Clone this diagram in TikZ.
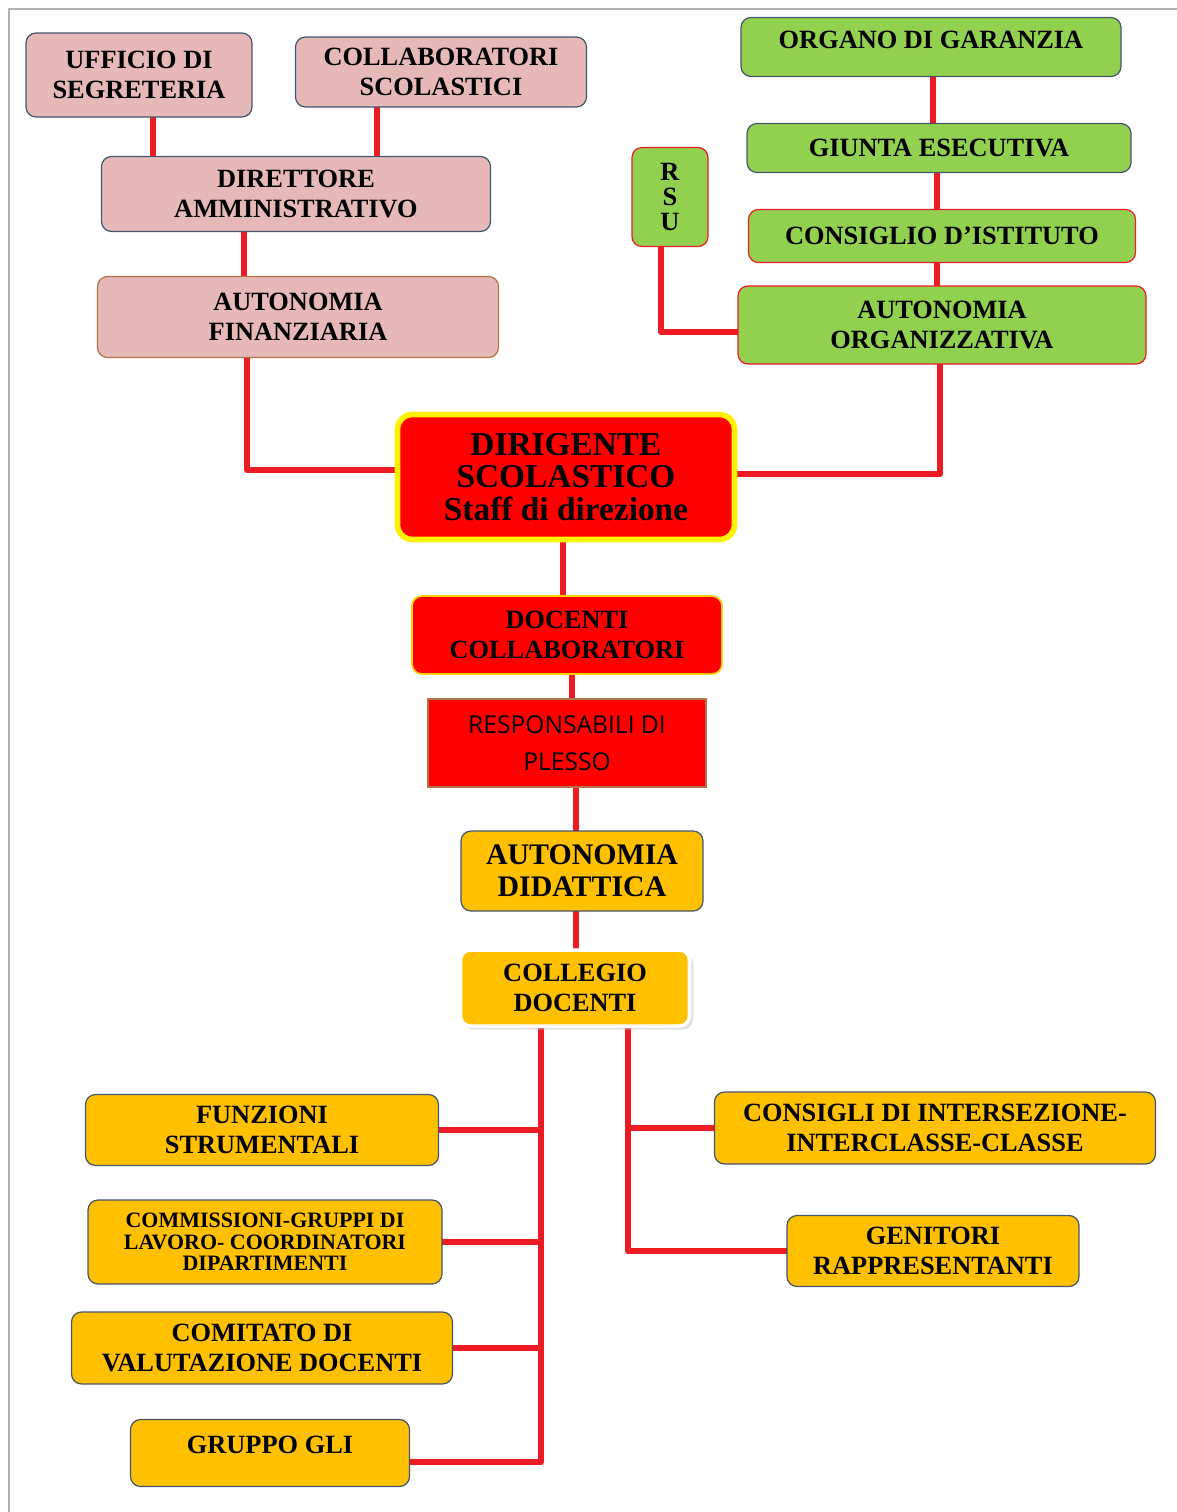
\documentclass[tikz,border=0pt]{standalone}
\usepackage{fontspec}
\setmainfont{Liberation Serif}
\newfontfamily\plessoFont{Open Sans}
\usetikzlibrary{backgrounds,shadows}
\definecolor{pinkFill}{HTML}{E6B9B8}
\definecolor{slateLine}{HTML}{44566E}
\definecolor{brownLine}{HTML}{B5714A}
\definecolor{greenFill}{HTML}{92D050}
\definecolor{linkRed}{HTML}{ED1C24}
\definecolor{boxRed}{HTML}{FF0000}
\definecolor{orangeFill}{HTML}{FFC000}
\tikzstyle{chart} = [x = 0.02cm, y = -0.02cm]
\tikzstyle{orgBox} = [rounded corners = .2cm, align = center, inner sep = 0pt, line width = .7pt, font = \bfseries\fontsize{15}{17}\selectfont]
\tikzstyle{pinkBox} = [orgBox, fill = pinkFill, draw = slateLine]
\tikzstyle{greenBox} = [orgBox, fill = greenFill, draw = slateLine]
\tikzstyle{greenRedBox} = [orgBox, fill = greenFill, draw = linkRed]
\tikzstyle{orangeBox} = [orgBox, fill = orangeFill, draw = slateLine]
\tikzstyle{link} = [color = linkRed, line width = 3.4pt, line cap = round, line join = round]
\tikzstyle{frameLine} = [color = black!30, line width = .6pt]
\newcommand{\chartBox}[7]{\node [#1, minimum width = #5 * 0.02cm, minimum height = #6 * 0.02cm] (#2) at (#3,#4) {#7};}
\begin{document}
\begin{tikzpicture}[chart]
  \useasboundingbox (0,0) rectangle (1177,1512);
  \draw [frameLine] (9,1512) -- (9,9) -- (1177,9);
  % amministrazione
  \chartBox{pinkBox}{ufficio}{139}{75}{226}{84}{UFFICIO DI\\SEGRETERIA}
  \chartBox{pinkBox}{collab}{441}{72}{291}{70}{COLLABORATORI\\SCOLASTICI}
  \chartBox{pinkBox}{dirAmm}{296}{194}{389}{75}{DIRETTORE\\AMMINISTRATIVO}
  \chartBox{pinkBox, draw = brownLine}{autFin}{298}{317}{401}{81}{AUTONOMIA\\FINANZIARIA}
  % organi collegiali
  \chartBox{greenBox, text depth = .28cm}{organo}{931}{47}{380}{59}{ORGANO DI GARANZIA}
  \chartBox{greenBox}{giunta}{939}{148}{384}{49}{GIUNTA ESECUTIVA}
  \chartBox{greenRedBox}{consiglio}{942}{236}{387}{53}{CONSIGLIO D’ISTITUTO}
  \chartBox{greenRedBox}{autOrg}{942}{325}{408}{78}{AUTONOMIA\\ORGANIZZATIVA}
  \chartBox{greenRedBox, font = \bfseries\fontsize{15}{14}\selectfont}{rsu}{670}{197}{76}{99}{R\\S\\U}
  % dirigenza
  \chartBox{orgBox, fill = boxRed, draw = yellow, line width = 3.2pt, rounded corners = .3cm, font = \bfseries\fontsize{19}{18.7}\selectfont}{dirigente}{566}{477}{337}{125}{DIRIGENTE\\SCOLASTICO\\Staff di direzione}
  \chartBox{orgBox, fill = boxRed, draw = yellow!70!orange, line width = 1pt}{docColl}{567}{635}{310}{78}{DOCENTI\\COLLABORATORI}
  \chartBox{orgBox, rounded corners = 0pt, fill = boxRed, draw = brownLine, font = \plessoFont\fontsize{14}{21}\selectfont}{resp}{567}{743}{278}{88}{RESPONSABILI DI\\PLESSO}
  % didattica
  \chartBox{orangeBox, font = \bfseries\fontsize{17}{18}\selectfont}{autDid}{582}{871}{242}{80}{AUTONOMIA\\DIDATTICA}
  \chartBox{orangeBox, draw = white, line width = 2pt, drop shadow = {shadow xshift = 2pt, shadow yshift = -2pt, fill = black!25}}{collegio}{575}{988}{229}{76}{COLLEGIO\\DOCENTI}
  \chartBox{orangeBox}{funzioni}{262}{1130}{353}{71}{FUNZIONI\\STRUMENTALI}
  \chartBox{orangeBox, font = \bfseries\fontsize{12.5}{12.2}\selectfont}{commissioni}{265}{1242}{354}{84}{COMMISSIONI-GRUPPI DI\\LAVORO- COORDINATORI\\DIPARTIMENTI}
  \chartBox{orangeBox}{comitato}{262}{1348}{381}{72}{COMITATO DI\\VALUTAZIONE DOCENTI}
  \chartBox{orangeBox, text depth = .32cm}{gruppo}{270}{1453}{279}{67}{GRUPPO GLI}
  \chartBox{orangeBox}{consigli}{935}{1128}{441}{72}{CONSIGLI DI INTERSEZIONE-\\INTERCLASSE-CLASSE}
  \chartBox{orangeBox}{genitori}{933}{1251}{292}{71}{GENITORI\\RAPPRESENTANTI}
  \coordinate (busL) at (541,0);
  \coordinate (busR) at (628,0);
  \begin{scope}[on background layer]
    \draw [link] (ufficio.south -| 153,0) -- (dirAmm.north -| 153,0);
    \draw [link] (collab.south -| 377,0) -- (dirAmm.north -| 377,0);
    \draw [link] (dirAmm.south -| 244,0) -- (autFin.north -| 244,0);
    \draw [link] (autFin.south -| 247,0) |- (dirigente.west |- 0,470);
    \draw [link] (organo.south -| 933,0) -- (giunta.north -| 933,0);
    \draw [link] (giunta.south -| 937,0) -- (consiglio.north -| 937,0);
    \draw [link] (consiglio.south -| 937,0) -- (autOrg.north -| 937,0);
    \draw [link] (rsu.south -| 661,0) |- (autOrg.west |- 0,332);
    \draw [link] (autOrg.south -| 940,0) |- (dirigente.east |- 0,474);
    \draw [link] (dirigente.south -| 563,0) -- (docColl.north -| 563,0);
    \draw [link] (docColl.south -| 572,0) -- (resp.north -| 572,0);
    \draw [link] (resp.south -| 576,0) -- (autDid.north -| 576,0);
    \draw [link] (autDid.south -| 576,0) -- (collegio.north -| 576,0);
    \draw [link] (collegio.south -| busL) |- (gruppo.east |- 0,1462);
    \foreach \branch in {funzioni, commissioni, comitato}
      \draw [link] (\branch.east) -- (\branch.east -| busL);
    \draw [link] (collegio.south -| busR) |- (genitori.west);
    \draw [link] (consigli.west) -- (consigli.west -| busR);
  \end{scope}
\end{tikzpicture}
\end{document}
